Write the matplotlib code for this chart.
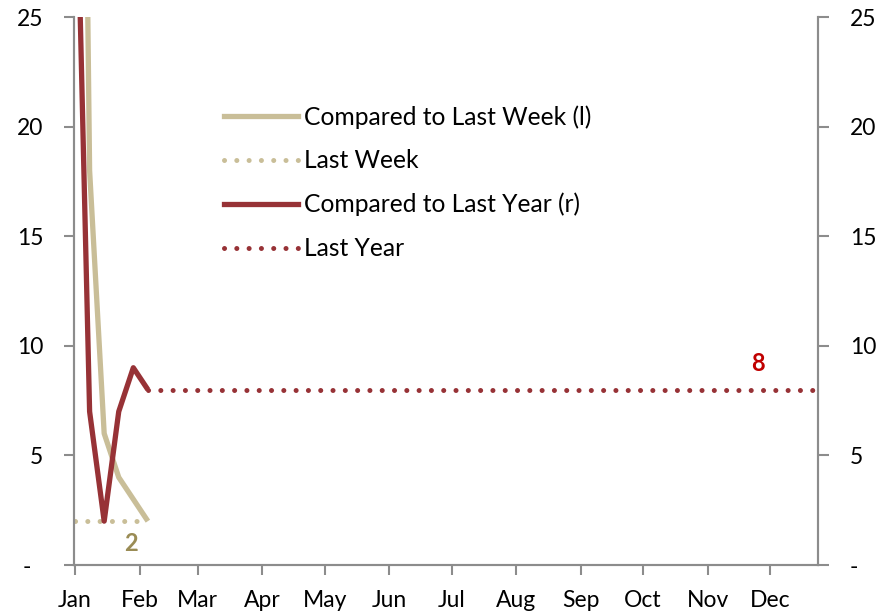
import matplotlib
matplotlib.use("Agg")
import matplotlib.pyplot as plt
from matplotlib.lines import Line2D
import datetime as dt

plt.rcParams['font.family'] = ['Lato', 'DejaVu Sans']

# ---- data ----
week_dates = ["2025-01-01", "2025-01-08", "2025-01-15", "2025-01-22", "2025-01-29", "2025-02-05"]
vs_last_week = [75, 18, 6, 4, 3, 2]
vs_last_year = [35, 7, 2, 7, 9, 8]
last_week_dates = ["2025-01-01", "2025-02-05"]
last_week_vals = [2, 2]
last_year_dates = ["2025-02-05", "2025-12-22"]
last_year_vals = [8, 8]
month_labels = ["Jan", "Feb", "Mar", "Apr", "May", "Jun", "Jul", "Aug", "Sep", "Oct", "Nov", "Dec"]
y_ticks = [0, 5, 10, 15, 20, 25]
y_ticklabels_left = ["-  ", "5", "10", "15", "20", "25"]
y_ticklabels_right = ["-", "5", "10", "15", "20", "25"]
label_last_week = "2"
label_last_year = "8"

def to_dt(lst):
    return [dt.datetime.strptime(s, "%Y-%m-%d") for s in lst]

TAN = "#C9BE98"
RED = "#973236"

fig = plt.figure(figsize=(8.89, 6.13), dpi=100)
ax = fig.add_axes([74/889, 1-565/613, (818-74)/889, (565-17)/613])
ax2 = ax.twinx()

dot = (0, (0.01, 2.45))
DLW = 3.6
ax.plot(to_dt(last_week_dates), last_week_vals, color=TAN, lw=DLW, linestyle=dot,
        dash_capstyle='round', zorder=2)
ax.plot(to_dt(week_dates), vs_last_week, color=TAN, lw=3.8, solid_capstyle='butt', zorder=3)
ax2.plot(to_dt(week_dates), vs_last_year, color=RED, lw=3.8, solid_capstyle='butt', zorder=4)
ax2.plot(to_dt(last_year_dates), last_year_vals, color=RED, lw=DLW, linestyle=dot,
         dash_capstyle='round', zorder=4)

xmin = dt.datetime(2025, 1, 1) - dt.timedelta(hours=12)
xmax = dt.datetime(2025, 12, 24)
ax.set_xlim(xmin, xmax)
ax.set_ylim(0, 25)
ax2.set_ylim(0, 25)

month_ticks = [dt.datetime(2025, m, 1) for m in range(1, 13)]
ax.set_xticks(month_ticks)
ax.set_xticklabels(month_labels)
ax.set_yticks(y_ticks)
ax.set_yticklabels(y_ticklabels_left)
ax2.set_yticks(y_ticks)
ax2.set_yticklabels(y_ticklabels_right)

spine_col = "#8C8C8C"
for a in (ax, ax2):
    for s in a.spines.values():
        s.set_color(spine_col)
        s.set_linewidth(1.5)
    a.spines['top'].set_visible(False)
ax.tick_params(axis='x', direction='out', length=7, width=1.5, color=spine_col,
               labelsize=16.5, pad=11, labelcolor='black')
ax.tick_params(axis='y', direction='out', length=7, width=1.5, color=spine_col,
               labelsize=16.5, pad=15, labelcolor='black')
ax2.tick_params(axis='y', direction='out', length=8, width=1.5, color=spine_col,
                labelsize=16.5, pad=15, labelcolor='black')

ax.text(dt.datetime(2025, 1, 28), 1.0, label_last_week, color="#9A8C55",
        fontsize=17, fontweight='bold', ha='center', va='center')
ax2.text(dt.datetime(2025, 12, 1) - dt.timedelta(days=6), 9.2, label_last_year, color="#C00000",
         fontsize=17, fontweight='bold', ha='center', va='center')

handles = [
    Line2D([], [], color=TAN, lw=3.8),
    Line2D([], [], color=TAN, lw=DLW, linestyle=dot, dash_capstyle='round'),
    Line2D([], [], color=RED, lw=3.8),
    Line2D([], [], color=RED, lw=DLW, linestyle=dot, dash_capstyle='round'),
]
labels = ["Compared to Last Week (l)", "Last Week", "Compared to Last Year (r)", "Last Year"]
leg = ax2.legend(handles, labels, loc='upper left', bbox_to_anchor=(224/889, 1-105/613),
                 bbox_transform=fig.transFigure, frameon=False, fontsize=17.7,
                 handlelength=3.0, handletextpad=0.25, labelspacing=0.84,
                 borderpad=0, borderaxespad=0)

fig.savefig("out.png", dpi=100)
